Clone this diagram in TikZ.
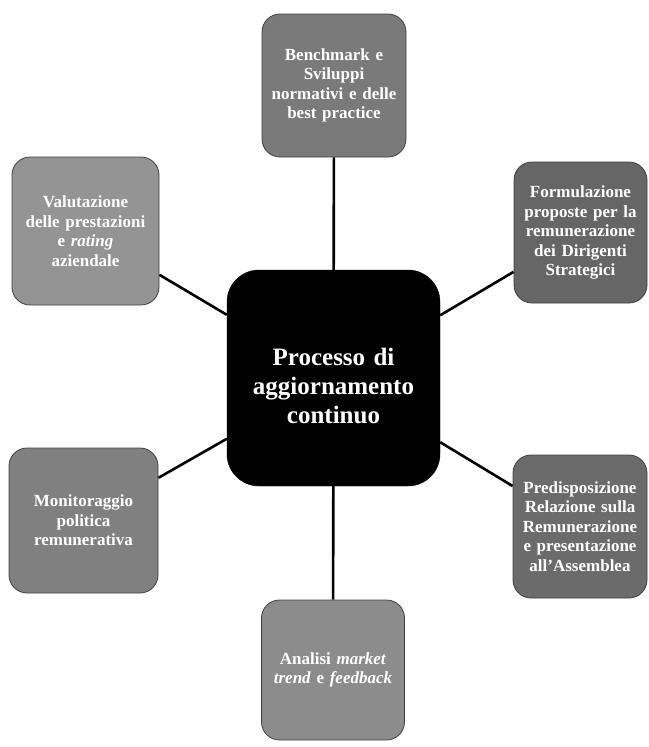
\documentclass[tikz,border=0pt]{standalone}
\usepackage{fontspec}
\setmainfont{Liberation Serif}
\begin{document}
\begin{tikzpicture}[x=1pt,y=-1pt,
  sat/.style={rectangle, rounded corners=18pt, draw=black!75, line width=0.8pt,
    inner sep=0pt, align=center, text=white, text width=136pt,
    font=\fontsize{17}{19.5}\selectfont\bfseries},
  hub/.style={rectangle, rounded corners=32pt, fill=black, draw=black,
    minimum width=213pt, minimum height=216pt, inner sep=0pt, align=center,
    text=white, text width=200pt, font=\fontsize{25}{29}\selectfont\bfseries},
  conn/.style={draw=black, line width=2.6pt}]
\useasboundingbox (0,0) rectangle (648,747);
\node[hub] (C) at (333.5,378) {\rule{0pt}{33pt}Processo di\\aggiornamento\\continuo};
\node[sat, fill=black!52, minimum width=144pt, minimum height=143pt] (T) at (334,85.5)
  {Benchmark e\\Sviluppi\\normativi e delle\\best practice};
\node[sat, fill=black!60, minimum width=133pt, minimum height=141pt, text width=130pt] (RT) at (580.5,232.5)
  {Formulazione\\proposte per la\\remunerazione\\dei Dirigenti\\Strategici};
\node[sat, fill=black!42, minimum width=147pt, minimum height=148pt] (LT) at (85.5,231)
  {Valutazione\\delle prestazioni\\e \textit{rating}\\aziendale};
\node[sat, fill=black!50, minimum width=149pt, minimum height=145pt] (LB) at (83.5,520.5)
  {Monitoraggio\\politica\\remunerativa};
\node[sat, fill=black!58, minimum width=134pt, minimum height=143pt, text width=130pt] (RB) at (580,526.5)
  {Predisposizione\\Relazione sulla\\Remunerazione\\e presentazione\\all'Assemblea};
\node[sat, fill=black!45, minimum width=143pt, minimum height=140pt] (B) at (333,670)
  {Analisi \textit{market}\\\textit{trend} e \textit{feedback}};
\draw[conn] (C) -- (T);
\draw[conn] (C) -- (RT);
\draw[conn] (C) -- (LT);
\draw[conn] (C) -- (LB);
\draw[conn] (C) -- (RB);
\draw[conn] (C) -- (B);
\end{tikzpicture}
\end{document}
